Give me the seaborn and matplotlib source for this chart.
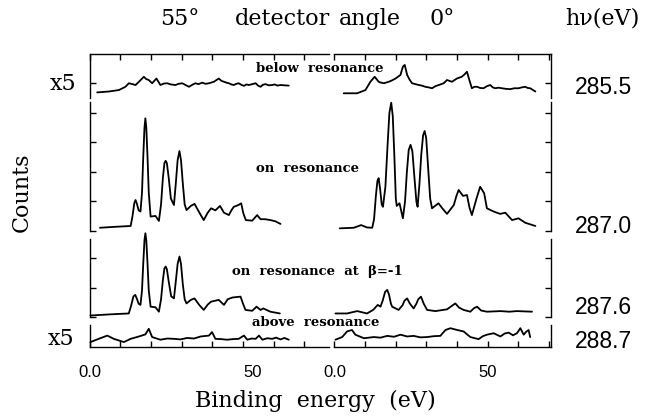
import matplotlib
matplotlib.use("Agg")
import matplotlib.pyplot as plt
import matplotlib.transforms as mtransforms
from matplotlib.ticker import FixedLocator, FixedFormatter, NullFormatter
import pandas as pd
import seaborn as sns

# ---------------- data (binding energy eV, counts in arbitrary units) ----------------
below_55 = [(2.5, .19), (6.3, .22), (9.6, .27), (11.7, .38), (12.8, .50), (14.0, .47), (15.0, .44),
            (16.1, .55), (17.7, .72), (18.5, .64), (19.3, .61), (20.4, .50), (21.8, .66), (23.1, .44),
            (24.2, .49), (25.3, .50), (26.5, .46), (28.0, .44), (29.0, .48), (30.2, .50), (31.3, .44),
            (32.4, .38), (33.5, .45), (34.5, .50), (35.5, .47), (36.7, .52), (37.8, .48), (38.9, .50),
            (40.5, .55), (42.1, .66), (43.0, .58), (43.8, .55), (44.6, .52), (45.4, .50), (46.2, .46),
            (47.0, .44), (47.8, .48), (48.6, .50), (49.4, .45), (50.3, .41), (51.1, .46), (51.9, .44),
            (53.0, .47), (54.1, .50), (54.9, .42), (55.7, .38), (56.5, .45), (57.3, .47), (58.4, .43),
            (59.5, .44), (60.3, .46), (61.2, .42), (62.2, .44), (63.5, .43), (64.9, .42)]
below_0 = [(3.0, .16), (7.4, .16), (10.1, .27), (11.7, .55), (13.1, .72), (14.4, .55), (15.2, .52),
           (16.1, .50), (17.7, .55), (18.8, .60), (19.9, .66), (21.5, .78), (22.3, 1.06), (22.9, 1.12),
           (23.7, .78), (24.5, .62), (25.3, .50), (26.4, .47), (27.5, .44), (28.5, .42), (29.6, .38),
           (30.7, .36), (31.8, .33), (32.9, .40), (34.0, .44), (35.6, .50), (36.7, .61), (38.3, .55),
           (39.9, .66), (41.5, .72), (42.4, .80), (43.2, .89), (44.0, .60), (44.8, .33), (45.6, .38),
           (46.5, .38), (47.5, .34), (48.6, .33), (49.7, .40), (50.8, .44), (51.6, .36), (52.4, .33),
           (53.5, .35), (54.6, .33), (55.9, .31), (57.3, .30), (58.6, .33), (60.0, .33), (61.1, .36),
           (62.2, .38), (63.0, .34), (63.8, .33), (64.6, .28), (65.5, .22)]
on_55 = [(3.4, .11), (8.0, .14), (13.4, .17), (14.0, .50), (14.6, .95), (15.0, 1.05), (15.5, .90),
         (16.0, .70), (16.6, .66), (17.1, 1.30), (17.5, 2.50), (17.9, 3.50), (18.2, 3.82), (18.5, 3.50),
         (18.9, 2.50), (19.3, 1.30), (19.9, .49), (21.5, .51), (22.6, .34), (23.3, .90), (23.9, 1.80),
         (24.4, 2.30), (24.8, 2.38), (25.2, 2.30), (25.8, 1.80), (26.5, 1.10), (27.5, .88), (28.1, 1.60),
         (28.7, 2.40), (29.3, 2.71), (29.8, 2.40), (30.4, 1.60), (31.0, .90), (31.6, .71), (33.0, .85),
         (34.2, .92), (35.8, .62), (37.2, .37), (38.5, .62), (39.6, .77), (41.0, .70), (42.5, .85),
         (43.8, .62), (45.4, .54), (46.2, .70), (47.0, .82), (48.5, .88), (49.4, .94), (50.1, .60),
         (50.9, .37), (53.0, .35), (54.6, .54), (55.7, .40), (57.2, .40), (58.9, .37), (60.5, .33),
         (62.2, .24)]
on_0 = [(1.7, .09), (6.3, .11), (8.7, .20), (10.6, .12), (12.3, .11), (12.9, .40), (13.5, 1.20),
        (14.0, 1.70), (14.4, 1.79), (14.9, 1.40), (15.4, .90), (15.8, .82), (16.6, 1.50), (17.3, 2.90),
        (17.9, 4.00), (18.5, 4.35), (19.0, 3.90), (19.5, 2.60), (20.0, 1.10), (20.3, .85), (21.2, .94),
        (22.3, .43), (23.0, 1.00), (23.6, 2.00), (24.2, 2.75), (24.8, 2.92), (25.4, 2.70), (26.0, 1.90),
        (26.7, 1.00), (27.1, .82), (27.7, 1.60), (28.3, 2.60), (28.9, 3.25), (29.4, 3.39), (29.9, 3.15),
        (30.5, 2.20), (31.2, 1.10), (31.8, .77), (33.9, .94), (35.3, .75), (36.7, .58), (38.9, .88),
        (39.8, 1.20), (40.5, 1.39), (41.9, 1.19), (43.2, 1.22), (44.0, .80), (44.8, .54), (46.3, 1.10),
        (47.5, 1.50), (48.8, 1.28), (49.7, .77), (51.9, .66), (54.0, .58), (55.7, .62), (57.9, .37),
        (60.0, .43), (62.2, .28), (65.5, .17)]
beta_55 = [(0.3, .05), (6.8, .09), (12.8, .12), (13.6, .40), (14.3, .70), (14.9, .75), (15.5, .60),
           (16.0, .45), (16.6, .41), (17.1, .90), (17.5, 1.80), (17.9, 2.60), (18.2, 2.84), (18.5, 2.60),
           (18.9, 1.80), (19.3, .90), (19.9, .35), (21.5, .33), (22.6, .18), (23.3, .60), (23.9, 1.25),
           (24.4, 1.65), (24.8, 1.71), (25.2, 1.62), (25.8, 1.20), (26.6, .70), (27.5, .63), (28.1, 1.20),
           (28.7, 1.80), (29.3, 2.05), (29.8, 1.80), (30.4, 1.10), (31.0, .60), (31.6, .46), (33.0, .58),
           (34.2, .63), (35.8, .40), (37.2, .24), (38.5, .42), (39.6, .52), (42.1, .58), (43.8, .41),
           (45.0, .60), (46.5, .66), (49.2, .69), (50.0, .45), (50.8, .24), (53.0, .21), (54.4, .35),
           (55.7, .24), (56.6, .29), (58.9, .18), (62.0, .12)]
beta_0 = [(0.3, .12), (4.1, .12), (7.4, .20), (10.6, .12), (12.6, .24), (14.1, .41), (15.0, .35),
          (15.7, .55), (16.5, .85), (17.2, .92), (17.8, .75), (18.4, .45), (18.8, .35), (20.9, .24),
          (22.2, .40), (22.8, .55), (23.7, .63), (24.6, .45), (25.8, .29), (26.7, .45), (27.3, .60),
          (28.2, .69), (29.1, .45), (30.2, .24), (32.9, .20), (36.7, .26), (38.3, .38), (39.4, .46),
          (40.6, .32), (42.1, .24), (44.3, .18), (45.5, .30), (46.5, .35), (47.8, .22), (49.7, .18),
          (52.0, .19), (54.1, .20), (57.0, .18), (59.5, .20), (62.0, .19), (64.4, .18)]
above_55 = [(0.3, .15), (3.0, .26), (5.8, .37), (7.9, .26), (11.2, .15), (13.4, .26), (16.1, .34),
            (18.2, .41), (19.3, .60), (20.4, .32), (23.1, .23), (25.3, .27), (27.5, .26), (29.6, .24),
            (31.8, .29), (34.0, .27), (36.2, .34), (38.9, .37), (39.9, .49), (41.0, .26), (42.9, .25),
            (44.8, .23), (46.7, .25), (48.6, .26), (50.3, .37), (51.4, .23), (52.8, .27), (54.1, .26),
            (55.2, .37), (56.3, .23), (57.9, .28), (59.5, .26), (60.8, .30), (62.2, .24), (63.5, .29),
            (64.9, .23)]
above_0 = [(0.3, .23), (2.5, .32), (4.1, .51), (5.7, .56), (6.8, .40), (9.6, .28), (12.8, .32),
           (15.0, .30), (17.2, .36), (19.4, .33), (21.5, .40), (23.7, .34), (25.8, .36), (28.0, .31),
           (30.2, .32), (32.4, .35), (34.5, .36), (36.2, .56), (37.8, .62), (40.0, .56), (42.1, .51),
           (44.3, .32), (47.0, .25), (48.4, .35), (49.7, .40), (51.9, .45), (54.1, .34), (55.5, .44),
           (56.8, .47), (58.2, .38), (59.5, .45), (60.6, .62), (61.7, .40), (62.5, .50), (63.3, .56),
           (63.8, .32)]

traces = {
    ("row1", "55"): below_55, ("row1", "0"): below_0,
    ("row2", "55"): on_55, ("row2", "0"): on_0,
    ("row3", "55"): beta_55, ("row3", "0"): beta_0,
    ("row4", "55"): above_55, ("row4", "0"): above_0,
}
frames = []
for (row, ang), pts in traces.items():
    d = pd.DataFrame(pts, columns=["energy", "counts"])
    d["row"] = row
    d["angle"] = ang
    frames.append(d)
df = pd.concat(frames, ignore_index=True)

row_labels = ["285.5", "287.0", "287.6", "288.7"]
row_notes = ["below  resonance", "on  resonance", "on  resonance  at  β=-1", "above  resonance"]
x_tick_values = [0, 10, 20, 30, 40, 50, 60, 70]
x_tick_labels = ["0.0", "", "", "", "", "50", "", ""]

# ---------------- layout ----------------
sns.set_style("ticks")
plt.rcParams["font.family"] = ["DejaVu Serif"]
plt.rcParams["text.color"] = "black"
plt.rcParams["xtick.color"] = "black"
plt.rcParams["ytick.color"] = "black"
W, H = 653, 419
fig = plt.figure(figsize=(W / 100, H / 100), dpi=100)


def fx(x):
    return x / W


def fy(y):
    return 1 - y / H


rows = ["row1", "row2", "row3", "row4"]
row_px = [(54, 98), (102, 231), (239, 317), (325, 346.5)]
col_px = {"55": (89.5, 329), "0": (334.5, 551)}
xmax = {"55": 78.0, "0": 70.6}
ppu = 29.5  # pixels per count unit
yticks = {"row1": [0.5], "row2": [0, 1, 2, 3, 4], "row3": [0, 1, 2], "row4": []}

axes = {}
for ri, row in enumerate(rows):
    y0, y1 = row_px[ri]
    for ang in ["55", "0"]:
        x0, x1 = col_px[ang]
        ax = fig.add_axes([fx(x0), fy(y1), (x1 - x0) / W, (y1 - y0) / H])
        sub = df[(df.row == row) & (df.angle == ang)]
        sns.lineplot(data=sub, x="energy", y="counts", ax=ax, color="black",
                     linewidth=1.3, estimator=None, sort=False)
        for ln in ax.lines:
            ln.set_clip_on(False)
        ax.set_xlim(0, xmax[ang])
        ax.set_ylim(0, (y1 - y0) / ppu)
        ax.set_xlabel("")
        ax.set_ylabel("")
        for s in ax.spines.values():
            s.set_visible(False)
            s.set_linewidth(1.0)
            s.set_color("black")
        side = "left" if ang == "55" else "right"
        ax.spines[side].set_visible(True)
        ax.yaxis.set_ticks_position(side)
        ax.yaxis.set_major_locator(FixedLocator(yticks[row]))
        ax.yaxis.set_major_formatter(NullFormatter())
        ax.tick_params(axis="y", direction="in", length=4, width=1, color="black")
        ax.xaxis.set_major_locator(FixedLocator(x_tick_values))
        if row == "row1":
            ax.spines["top"].set_visible(True)
            ax.xaxis.set_ticks_position("top")
            ax.xaxis.set_major_formatter(NullFormatter())
            ax.tick_params(axis="x", direction="in", length=4, width=1, color="black")
        elif row == "row4":
            ax.spines["bottom"].set_visible(True)
            ax.xaxis.set_ticks_position("bottom")
            ax.xaxis.set_major_formatter(FixedFormatter(x_tick_labels))
            ax.tick_params(axis="x", direction="in", length=4, width=1, color="black",
                           labelsize=12, pad=13, labelcolor="black")
            for lab in ax.get_xticklabels():
                lab.set_fontfamily("Liberation Sans")
        else:
            ax.xaxis.set_ticks([])
        ax.patch.set_alpha(0)
        axes[(row, ang)] = ax

# the printed "50" of the 55-degree panel sits a little right of its tick
tk = axes[("row4", "55")].xaxis.get_major_ticks()[5]
tk.label1.set_transform(tk.label1.get_transform()
                        + mtransforms.ScaledTranslation(10 / 100, 0, fig.dpi_scale_trans))

# ---------------- texts ----------------
title_kw = dict(ha="center", va="center", fontsize=16, family="DejaVu Serif", color="black")
fig.text(fx(180), fy(19), "55°", **title_kw)
fig.text(fx(282), fy(19), "detector", **title_kw)
fig.text(fx(370), fy(19), "angle", **title_kw)
fig.text(fx(442), fy(19), "0°", **title_kw)
fig.text(fx(602), fy(19), "hν(eV)", **title_kw)

fig.text(fx(63), fy(84), "x5", **title_kw)
fig.text(fx(61), fy(339), "x5", **title_kw)
fig.text(fx(22), fy(192), "Counts", rotation=90, **title_kw)
fig.text(fx(315), fy(401), "Binding  energy  (eV)", **title_kw)

val_y = [87, 226, 307, 342]
for lab, yy in zip(row_labels, val_y):
    fig.text(fx(603), fy(yy), lab, ha="center", va="center", fontsize=16.5,
             family="Liberation Sans", color="black")

note_xy = [(320, 69), (307, 168), (317, 271), (316, 322)]
for note, (xx, yy) in zip(row_notes, note_xy):
    fig.text(fx(xx), fy(yy), note, ha="center", va="center", fontsize=9.5,
             fontweight="bold", family="DejaVu Serif", color="black")

fig.savefig("out.png", dpi=100)
